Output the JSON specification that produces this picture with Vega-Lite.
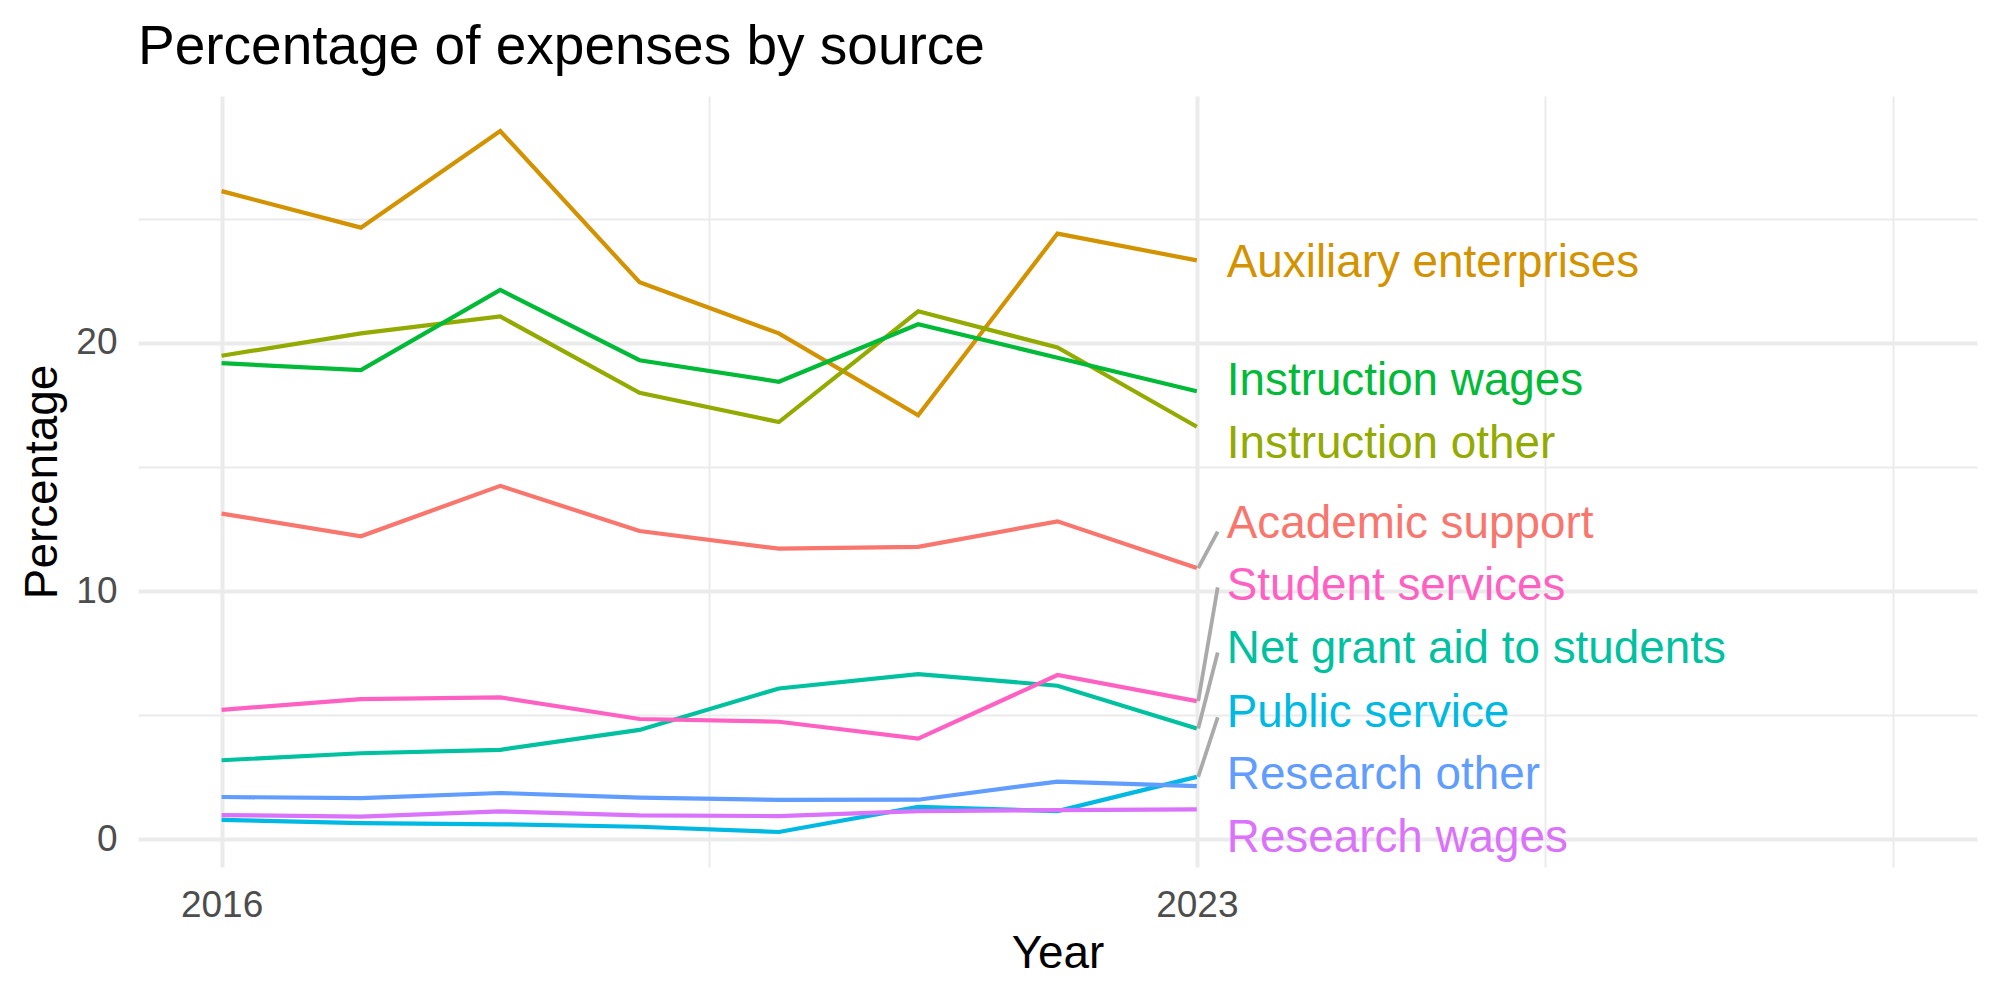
{
  "$schema": "https://vega.github.io/schema/vega-lite/v6.json",
  "width": 1839,
  "height": 771,
  "autosize": "none",
  "padding": {"left": 138, "top": 96, "right": 23, "bottom": 133},
  "background": "white",
  "title": {
    "text": "Percentage of expenses by source",
    "anchor": "start",
    "frame": "group",
    "font": "Liberation Sans",
    "fontSize": 55,
    "fontWeight": "normal",
    "color": "black",
    "baseline": "alphabetic",
    "offset": 32,
    "dy": 55
  },
  "config": {
    "view": {"stroke": null},
    "axis": {
      "domain": false,
      "ticks": false,
      "gridColor": "#EBEBEB",
      "labelFont": "Liberation Sans",
      "labelFontSize": 37,
      "labelColor": "#4D4D4D",
      "titleFont": "Liberation Sans",
      "titleFontSize": 45.8,
      "titleFontWeight": "normal",
      "titleColor": "black"
    }
  },
  "datasets": {
    "series": [
      {"source": "Academic support", "year": 2016, "value": 13.12},
      {"source": "Academic support", "year": 2017, "value": 12.21},
      {"source": "Academic support", "year": 2018, "value": 14.24},
      {"source": "Academic support", "year": 2019, "value": 12.42},
      {"source": "Academic support", "year": 2020, "value": 11.71},
      {"source": "Academic support", "year": 2021, "value": 11.78},
      {"source": "Academic support", "year": 2022, "value": 12.81},
      {"source": "Academic support", "year": 2023, "value": 10.93},
      {"source": "Auxiliary enterprises", "year": 2016, "value": 26.11},
      {"source": "Auxiliary enterprises", "year": 2017, "value": 24.64},
      {"source": "Auxiliary enterprises", "year": 2018, "value": 28.53},
      {"source": "Auxiliary enterprises", "year": 2019, "value": 22.44},
      {"source": "Auxiliary enterprises", "year": 2020, "value": 20.38},
      {"source": "Auxiliary enterprises", "year": 2021, "value": 17.08},
      {"source": "Auxiliary enterprises", "year": 2022, "value": 24.40},
      {"source": "Auxiliary enterprises", "year": 2023, "value": 23.32},
      {"source": "Instruction other", "year": 2016, "value": 19.48},
      {"source": "Instruction other", "year": 2017, "value": 20.38},
      {"source": "Instruction other", "year": 2018, "value": 21.06},
      {"source": "Instruction other", "year": 2019, "value": 17.99},
      {"source": "Instruction other", "year": 2020, "value": 16.81},
      {"source": "Instruction other", "year": 2021, "value": 21.27},
      {"source": "Instruction other", "year": 2022, "value": 19.81},
      {"source": "Instruction other", "year": 2023, "value": 16.62},
      {"source": "Instruction wages", "year": 2016, "value": 19.18},
      {"source": "Instruction wages", "year": 2017, "value": 18.90},
      {"source": "Instruction wages", "year": 2018, "value": 22.13},
      {"source": "Instruction wages", "year": 2019, "value": 19.30},
      {"source": "Instruction wages", "year": 2020, "value": 18.43},
      {"source": "Instruction wages", "year": 2021, "value": 20.75},
      {"source": "Instruction wages", "year": 2022, "value": 19.40},
      {"source": "Instruction wages", "year": 2023, "value": 18.05},
      {"source": "Net grant aid to students", "year": 2016, "value": 3.19},
      {"source": "Net grant aid to students", "year": 2017, "value": 3.47},
      {"source": "Net grant aid to students", "year": 2018, "value": 3.61},
      {"source": "Net grant aid to students", "year": 2019, "value": 4.41},
      {"source": "Net grant aid to students", "year": 2020, "value": 6.08},
      {"source": "Net grant aid to students", "year": 2021, "value": 6.66},
      {"source": "Net grant aid to students", "year": 2022, "value": 6.19},
      {"source": "Net grant aid to students", "year": 2023, "value": 4.47},
      {"source": "Public service", "year": 2016, "value": 0.79},
      {"source": "Public service", "year": 2017, "value": 0.66},
      {"source": "Public service", "year": 2018, "value": 0.61},
      {"source": "Public service", "year": 2019, "value": 0.51},
      {"source": "Public service", "year": 2020, "value": 0.30},
      {"source": "Public service", "year": 2021, "value": 1.31},
      {"source": "Public service", "year": 2022, "value": 1.14},
      {"source": "Public service", "year": 2023, "value": 2.52},
      {"source": "Research other", "year": 2016, "value": 1.71},
      {"source": "Research other", "year": 2017, "value": 1.66},
      {"source": "Research other", "year": 2018, "value": 1.87},
      {"source": "Research other", "year": 2019, "value": 1.68},
      {"source": "Research other", "year": 2020, "value": 1.59},
      {"source": "Research other", "year": 2021, "value": 1.60},
      {"source": "Research other", "year": 2022, "value": 2.33},
      {"source": "Research other", "year": 2023, "value": 2.15},
      {"source": "Research wages", "year": 2016, "value": 0.98},
      {"source": "Research wages", "year": 2017, "value": 0.92},
      {"source": "Research wages", "year": 2018, "value": 1.13},
      {"source": "Research wages", "year": 2019, "value": 0.97},
      {"source": "Research wages", "year": 2020, "value": 0.94},
      {"source": "Research wages", "year": 2021, "value": 1.14},
      {"source": "Research wages", "year": 2022, "value": 1.18},
      {"source": "Research wages", "year": 2023, "value": 1.21},
      {"source": "Student services", "year": 2016, "value": 5.22},
      {"source": "Student services", "year": 2017, "value": 5.65},
      {"source": "Student services", "year": 2018, "value": 5.72},
      {"source": "Student services", "year": 2019, "value": 4.85},
      {"source": "Student services", "year": 2020, "value": 4.74},
      {"source": "Student services", "year": 2021, "value": 4.06},
      {"source": "Student services", "year": 2022, "value": 6.62},
      {"source": "Student services", "year": 2023, "value": 5.57}
    ],
    "labels": [
      {"source": "Auxiliary enterprises", "label_y": 23.2},
      {"source": "Instruction wages", "label_y": 18.45},
      {"source": "Instruction other", "label_y": 15.94},
      {"source": "Academic support", "label_y": 12.70},
      {"source": "Student services", "label_y": 10.21},
      {"source": "Net grant aid to students", "label_y": 7.66},
      {"source": "Public service", "label_y": 5.11},
      {"source": "Research other", "label_y": 2.58},
      {"source": "Research wages", "label_y": 0.04}
    ],
    "segments": [
      {"source": "Academic support", "end_value": 10.93, "seg_y": 12.40},
      {"source": "Student services", "end_value": 5.57, "seg_y": 10.15},
      {"source": "Net grant aid to students", "end_value": 4.47, "seg_y": 7.53},
      {"source": "Public service", "end_value": 2.52, "seg_y": 4.92}
    ]
  },
  "layer": [
    {
      "data": {"name": "series"},
      "mark": {"type": "line", "strokeWidth": 4.2},
      "encoding": {
        "x": {
          "field": "year",
          "type": "quantitative",
          "title": "Year",
          "scale": {"domain": [2015.4, 2028.6], "nice": false, "zero": false},
          "axis": {
            "values": [2016, 2019.5, 2023, 2025.5, 2028],
            "labelExpr": "(datum.value === 2016 || datum.value === 2023) ? datum.value + '' : ''",
            "labelPadding": 20,
            "titlePadding": 8,
            "gridWidth": {"condition": {"test": "datum.value === 2016 || datum.value === 2023", "value": 4}, "value": 2}
          }
        },
        "y": {
          "field": "value",
          "type": "quantitative",
          "title": "Percentage",
          "scale": {"domain": [-1.11, 29.94], "nice": false, "zero": false},
          "axis": {
            "values": [0, 5, 10, 15, 20, 25],
            "labelExpr": "datum.value % 10 === 0 ? datum.value + '' : ''",
            "labelPadding": 21,
            "titlePadding": 9,
            "gridWidth": {"condition": {"test": "datum.value % 10 === 0", "value": 4}, "value": 2}
          }
        },
        "color": {
          "field": "source",
          "type": "nominal",
          "legend": null,
          "scale": {
            "domain": ["Academic support", "Auxiliary enterprises", "Instruction other", "Instruction wages", "Net grant aid to students", "Public service", "Research other", "Research wages", "Student services"],
            "range": ["#F8766D", "#D39200", "#93AA00", "#00BA38", "#00C19F", "#00B9E3", "#619CFF", "#DB72FB", "#FF61C3"]
          }
        }
      }
    },
    {
      "data": {"name": "segments"},
      "mark": {"type": "rule", "strokeWidth": 3.8, "color": "#AAAAAA"},
      "encoding": {
        "x": {"datum": 2023.01, "type": "quantitative"},
        "x2": {"datum": 2023.15},
        "y": {"field": "end_value", "type": "quantitative"},
        "y2": {"field": "seg_y"}
      }
    },
    {
      "data": {"name": "labels"},
      "mark": {"type": "text", "align": "left", "baseline": "middle", "font": "Liberation Sans", "fontSize": 45.8, "dx": 30},
      "encoding": {
        "x": {"datum": 2023, "type": "quantitative"},
        "y": {"field": "label_y", "type": "quantitative"},
        "text": {"field": "source"},
        "color": {"field": "source", "type": "nominal", "legend": null}
      }
    }
  ]
}
